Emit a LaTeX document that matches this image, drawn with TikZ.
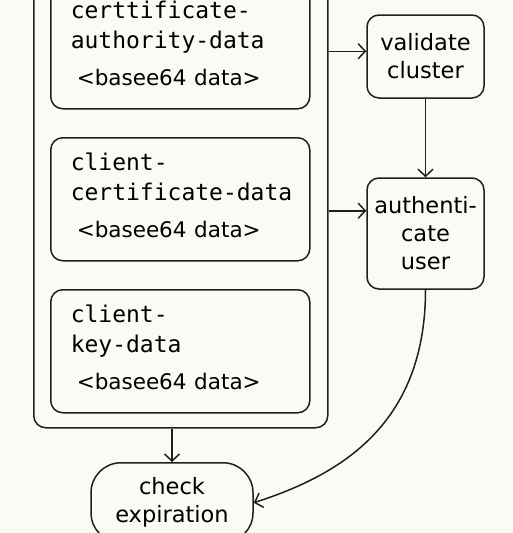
\documentclass[tikz,border=0pt]{standalone}
\usepackage{fontspec}
\setmainfont{DejaVu Sans}
\setsansfont{DejaVu Sans}
\setmonofont{DejaVu Sans Mono}
\usetikzlibrary{arrows.meta}
\definecolor{paper}{HTML}{FBFAF4}
\definecolor{ink}{HTML}{1F1F1F}
\tikzset{
	frame/.style={draw=ink, line width=1.5pt, rounded corners=12pt},
	databox/.style={frame, anchor=north west, minimum width=259pt, minimum height=123pt, text width=219pt, inner xsep=20pt, align=left, font=\fontsize{23}{30}\selectfont\ttfamily},
	stepbox/.style={frame, minimum width=117pt, align=center, font=\fontsize{22.5}{28}\selectfont},
	flow/.style={draw=ink, line width=1.5pt, -{Straight Barb[length=7pt,width=15pt,line width=1.5pt]}}
}
\newcommand{\bdata}{{\sffamily\fontsize{21.5}{30}\selectfont\hspace*{6pt}<basee64 data>\rule[-8pt]{0pt}{8pt}}}
\begin{document}
\begin{tikzpicture}[x=1pt,y=1pt]
	\path[use as bounding box, fill=paper] (0,0) rectangle (512,-533);
	\clip (0,0) rectangle (512,-533);

	% kubeconfig user entry
	\node[frame, anchor=north west, minimum width=294pt, minimum height=457pt] (kubecfg) at (33,30) {};
	\node[databox] (cad) at (50,15) {certtificate-\\authority-data\\[7pt]\bdata};
	\node[databox] (ccd) at (50,-137) {client-\\certificate-data\\[7pt]\bdata};
	\node[databox] (ckd) at (50,-289) {client-\\key-data\\[7pt]\bdata};

	% steps
	\node[stepbox, minimum height=83pt] (vc) at (425.5,-56.5) {validate\\cluster};
	\node[stepbox, minimum height=111pt] (au) at (425.5,-233.5) {authenti-\\cate\\user};
	\node[frame, rounded corners=30pt, anchor=north, minimum width=162pt, minimum height=80pt, align=center, font=\fontsize{22.5}{28}\selectfont] (ce) at (172,-462) {check\\expiration};

	\draw[flow] ([yshift=-4pt]kubecfg.east |- cad.east) -- ([yshift=-4pt]cad.east -| vc.west);
	\draw[flow] ([yshift=-11.5pt]kubecfg.east |- ccd.east) -- ([yshift=-11.5pt]ccd.east -| au.west);
	\draw[flow] (vc) -- (au);
	\draw[flow] (ce.north |- kubecfg.south) -- (ce.north);
	\draw[flow] (au.south) to[out=-90, in=18, out looseness=1.3, in looseness=0.8] (ce.east);
\end{tikzpicture}
\end{document}
